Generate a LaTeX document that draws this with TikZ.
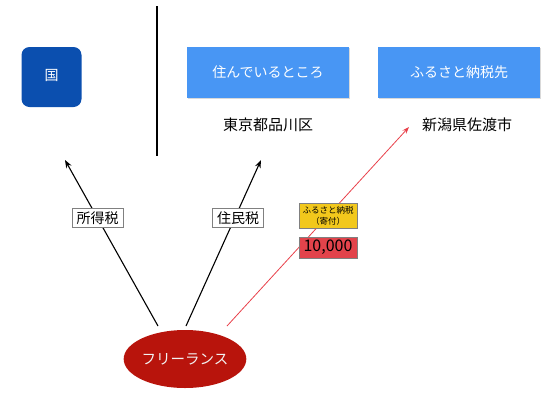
\documentclass[tikz,border=0pt]{standalone}
\usepackage{fontspec}
\setmainfont{Noto Sans CJK JP}
\usetikzlibrary{arrows.meta,shadows,shapes.geometric}
\definecolor{kuniblue}{HTML}{0B4FAF}
\definecolor{lightblue}{HTML}{4896F4}
\definecolor{freered}{HTML}{B8140C}
\definecolor{tagyellow}{HTML}{F2C81C}
\definecolor{tagred}{HTML}{E2434B}
\definecolor{arrowred}{HTML}{E8404A}
\begin{document}
\begin{tikzpicture}[x=1pt,y=-1pt,
  bluebox/.style={fill=lightblue,minimum width=162pt,minimum height=51pt,text=white,font=\fontsize{14}{16}\selectfont,inner sep=0pt,drop shadow={shadow xshift=0.6pt,shadow yshift=-0.8pt,opacity=0.3}},
  place/.style={font=\fontsize{15}{17}\selectfont,inner sep=1pt},
  taxlabel/.style={draw=gray,fill=white,font=\fontsize{14}{16}\selectfont,inner sep=0pt,minimum width=51pt,minimum height=19pt,line width=0.8pt},
  arr/.style={-{Stealth[length=8pt,width=6pt]},line width=1.1pt},
  redarr/.style={-{Stealth[length=7pt,width=5pt]},line width=0.8pt,draw=arrowred}]
\useasboundingbox (0,0) rectangle (549,402);
% country box
\node[fill=kuniblue,rounded corners=8pt,minimum width=60pt,minimum height=60pt,inner sep=0pt,text=white,font=\fontsize{14}{16}\selectfont] (kuni) at (51.5,77) {\raisebox{4pt}{国}};
% divider
\coordinate (dtop) at (157,6);
\coordinate (dbot) at (157,156);
\draw[line width=1.2pt] (dtop) -- (dbot);
% blue boxes
\node[bluebox] (sumai) at (268,72.5) {住んでいるところ};
\node[bluebox] (furusato) at (459,72.5) {ふるさと納税先};
\node[place] (tokyo) at (268,125) {東京都品川区};
\node[place] (niigata) at (467,125) {新潟県佐渡市};
% freelancer
\node[ellipse,fill=freered,minimum width=120pt,minimum height=58pt,text=white!95!black,font=\fontsize{14.5}{16}\selectfont,inner sep=0pt] (free) at (185,359) {フリーランス};
% arrows
\coordinate (s1) at (158,326);
\coordinate (t1) at (65,160);
\coordinate (s2) at (186,326);
\coordinate (t2) at (261,160);
\coordinate (s3) at (227,326);
\coordinate (t3) at (409,127);
\draw[arr] (s1) -- (t1);
\draw[arr] (s2) -- (t2);
\draw[redarr] (s3) -- (t3);
% labels
\node[taxlabel] (shotoku) at (97.5,218) {所得税};
\node[taxlabel] (jumin) at (238,218) {住民税};
\node[draw=gray,fill=tagyellow,line width=0.8pt,minimum width=58pt,minimum height=25pt,inner sep=0pt,align=center,font=\fontsize{8.5}{11}\selectfont] (kifu) at (328,215.5) {ふるさと納税\\（寄付）};
\node[draw=gray,fill=tagred,line width=0.8pt,minimum width=58pt,minimum height=21pt,inner sep=0pt,font=\fontsize{16}{18}\selectfont] (amount) at (328,247.5) {10,000};
\end{tikzpicture}
\end{document}
